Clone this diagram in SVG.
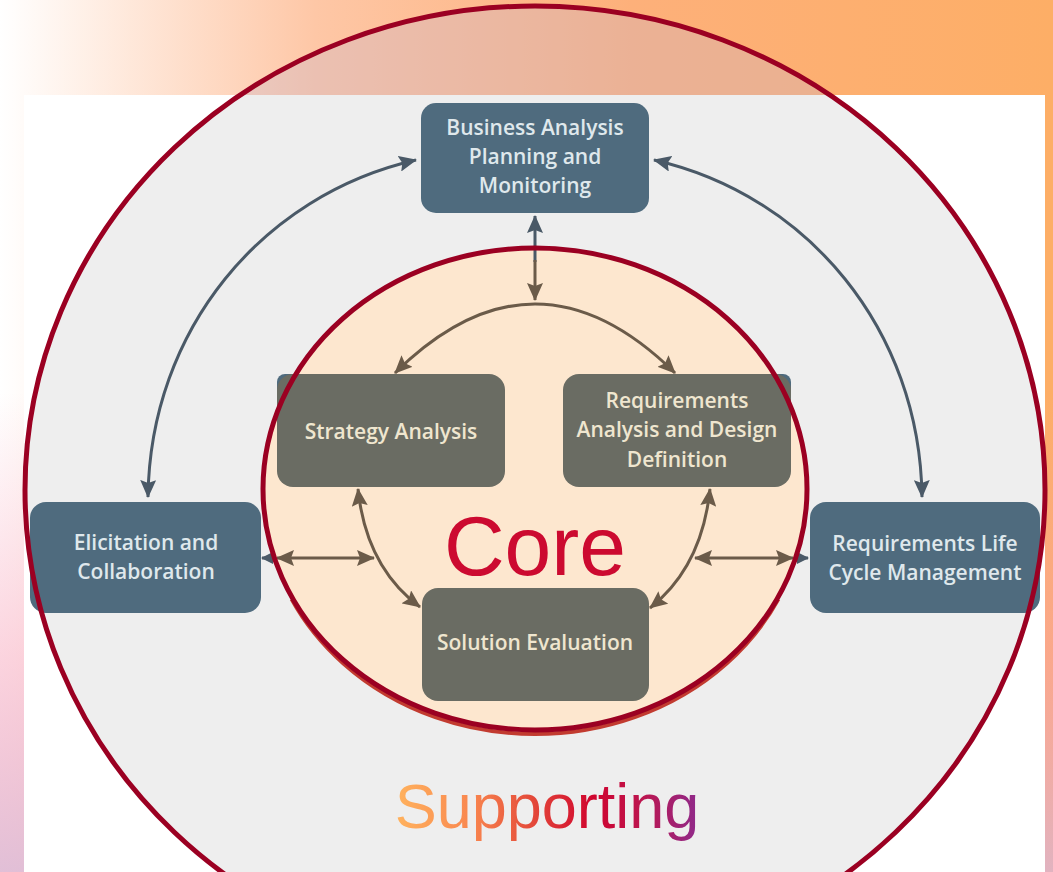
<svg xmlns="http://www.w3.org/2000/svg" width="1053" height="872" viewBox="0 0 1053 872">
<style>
.bb{fill:#4f6b7e}
.gb{fill:#6a6c63}
.bt{font-family:"Open Sans","Liberation Sans",sans-serif;font-weight:600;font-size:21px;fill:#dfe8ec;text-anchor:middle}
.gt{font-family:"Open Sans","Liberation Sans",sans-serif;font-weight:600;font-size:21px;fill:#efe6cf;text-anchor:middle}
.cb{fill:none;stroke:#6b5b49;stroke-width:3}
.cg{fill:none;stroke:#4a5967;stroke-width:3}
</style>
<defs>
<linearGradient id="bgH" x1="0" y1="0" x2="1" y2="0">
<stop offset="0" stop-color="#ffffff"/>
<stop offset="0.3" stop-color="#fec7a6"/>
<stop offset="0.6" stop-color="#fdb07a"/>
<stop offset="1" stop-color="#fdae66"/>
</linearGradient>
<linearGradient id="bgV" x1="0" y1="0" x2="0" y2="1">
<stop offset="0" stop-color="#f7a0b8" stop-opacity="0"/>
<stop offset="0.45" stop-color="#f7a0b8" stop-opacity="0"/>
<stop offset="0.75" stop-color="#f7a0b8" stop-opacity="0.45"/>
<stop offset="1" stop-color="#dcb4d0" stop-opacity="0.85"/>
</linearGradient>
<linearGradient id="sup" x1="0" y1="0" x2="1" y2="0">
<stop offset="0" stop-color="#ffb35e"/>
<stop offset="0.25" stop-color="#f9874f"/>
<stop offset="0.45" stop-color="#e44a3a"/>
<stop offset="0.65" stop-color="#d0042e"/>
<stop offset="0.82" stop-color="#bb1651"/>
<stop offset="1" stop-color="#8e2a8c"/>
</linearGradient>
<clipPath id="topBand"><rect x="0" y="0" width="1053" height="95"/></clipPath>
<clipPath id="imgArea"><rect x="24" y="95" width="1021" height="777"/></clipPath>
<clipPath id="lowHalf"><rect x="0" y="600" width="1053" height="272"/></clipPath>
<marker id="ab" viewBox="0 0 18 16" refX="17" refY="8" markerWidth="18" markerHeight="16" markerUnits="userSpaceOnUse" orient="auto-start-reverse"><path d="M0,0 L18,8 L0,16 L3,8 z" fill="#6b5b49"/></marker>
<marker id="ag" viewBox="0 0 18 16" refX="17" refY="8" markerWidth="18" markerHeight="16" markerUnits="userSpaceOnUse" orient="auto-start-reverse"><path d="M0,0 L18,8 L0,16 L3,8 z" fill="#4a5967"/></marker>
<marker id="ags" viewBox="0 0 12 12" refX="11" refY="6" markerWidth="12" markerHeight="12" markerUnits="userSpaceOnUse" orient="auto-start-reverse"><path d="M0,0 L12,6 L0,12 z" fill="#4a5967"/></marker>
</defs>

<g id="background">
<rect x="0" y="0" width="1053" height="872" fill="url(#bgH)"/>
<rect x="0" y="0" width="1053" height="872" fill="url(#bgV)"/>
<rect x="24" y="95" width="1021" height="777" fill="#ffffff"/>
<ellipse cx="535" cy="490" rx="510" ry="484" fill="#c8b4c8" fill-opacity="0.35" clip-path="url(#topBand)"/>
<ellipse cx="535" cy="490" rx="510" ry="484" fill="#eeeeee" clip-path="url(#imgArea)"/>
</g>

<g id="core-area">
<ellipse cx="535" cy="489" rx="272" ry="241" fill="#fde7cf"/>
</g>

<g id="connectors">
<path class="cg" d="M416,160 C262,195 150,330 148,497" marker-start="url(#ag)" marker-end="url(#ag)"/>
<path class="cg" d="M654,160 C808,195 920,330 922,497" marker-start="url(#ag)" marker-end="url(#ag)"/>
<path class="cg" d="M535,216 L535,262" marker-start="url(#ag)"/>
<path class="cb" d="M535,260 L535,300" marker-end="url(#ab)"/>
<path class="cb" d="M395,373 Q535,235 675,373" marker-start="url(#ab)" marker-end="url(#ab)"/>
<path class="cb" d="M358,489 Q366,567 420,607" marker-start="url(#ab)" marker-end="url(#ab)"/>
<path class="cb" d="M710,489 Q702,567 650,608" marker-start="url(#ab)" marker-end="url(#ab)"/>
<path class="cb" d="M277,558 L374,558" marker-start="url(#ab)" marker-end="url(#ab)"/>
<path class="cg" d="M268,558 L262,558" stroke-width="2" marker-end="url(#ags)"/>
<path class="cb" d="M695,558 L793,558" marker-start="url(#ab)" marker-end="url(#ab)"/>
<path class="cg" d="M801,558 L808,558" stroke-width="2" marker-end="url(#ags)"/>
</g>

<g id="node-bapm">
<rect class="bb" x="421" y="103" width="228" height="110" rx="15"/>
<text class="bt" x="535" y="135">Business Analysis</text>
<text class="bt" x="535" y="164">Planning and</text>
<text class="bt" x="535" y="193">Monitoring</text>
</g>

<g id="node-strategy">
<rect class="bb" x="277" y="374" width="40" height="30" rx="8"/>
<rect class="gb" x="277" y="374" width="228" height="113" rx="16"/>
<text class="gt" x="391" y="439">Strategy Analysis</text>
</g>

<g id="node-radd">
<rect class="bb" x="751" y="374" width="40" height="30" rx="8"/>
<rect class="gb" x="563" y="374" width="228" height="113" rx="16"/>
<text class="gt" x="677" y="408">Requirements</text>
<text class="gt" x="677" y="437">Analysis and Design</text>
<text class="gt" x="677" y="467">Definition</text>
</g>

<g id="node-elicitation">
<rect class="bb" x="30" y="502" width="231" height="111" rx="16"/>
<text class="bt" x="146" y="550">Elicitation and</text>
<text class="bt" x="146" y="579">Collaboration</text>
</g>

<g id="node-rlcm">
<rect class="bb" x="810" y="502" width="230" height="111" rx="16"/>
<text class="bt" x="925" y="551">Requirements Life</text>
<text class="bt" x="925" y="580">Cycle Management</text>
</g>

<g id="node-solution">
<rect class="gb" x="422" y="588" width="227" height="113" rx="16"/>
<text class="gt" x="535" y="650">Solution Evaluation</text>
</g>

<g id="rings">
<ellipse cx="535" cy="493" rx="271" ry="241" fill="none" stroke="#c23b30" stroke-width="4" clip-path="url(#lowHalf)"/>
<ellipse cx="535" cy="489" rx="272" ry="241" fill="none" stroke="#9b0022" stroke-width="5"/>
<ellipse cx="535" cy="490" rx="510" ry="484" fill="none" stroke="#9b0022" stroke-width="5"/>
</g>

<g id="labels">
<text x="535" y="575" font-family="Liberation Sans, Arial, sans-serif" font-size="84" fill="#cc0a30" text-anchor="middle">Core</text>
<text x="547" y="828" font-family="Liberation Sans, Arial, sans-serif" font-size="63" fill="url(#sup)" text-anchor="middle">Supporting</text>
</g>
</svg>
